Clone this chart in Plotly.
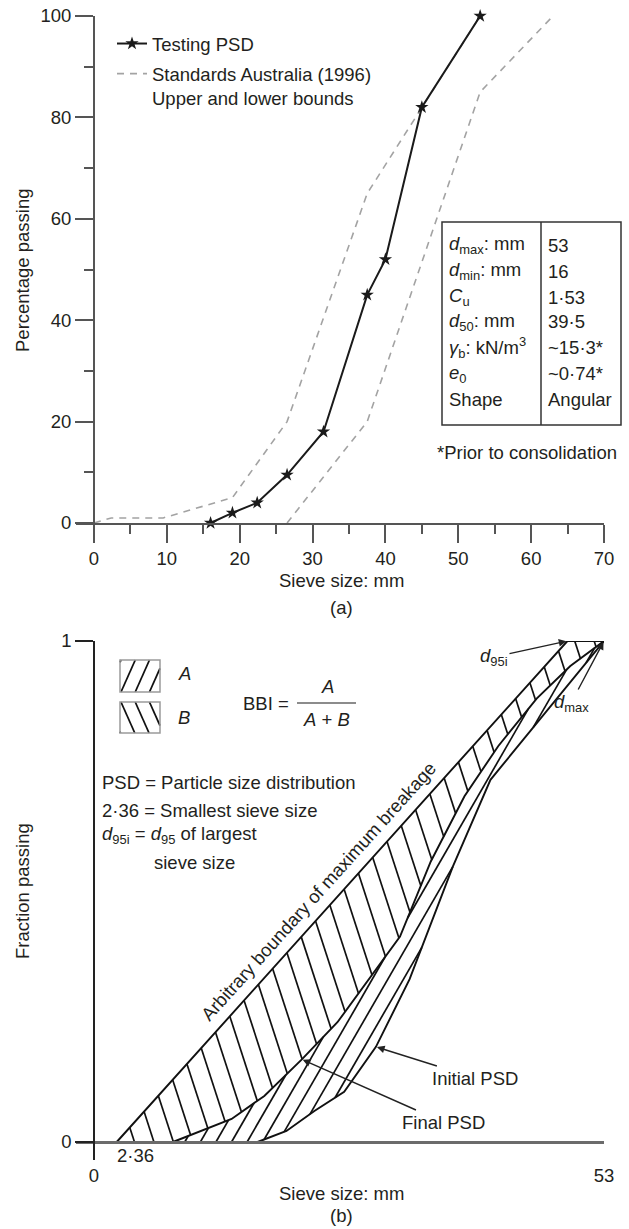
import numpy as np
import plotly.graph_objects as go

W, H = 629, 1229
FONT = "Liberation Sans, Arial, sans-serif"
TXT = "#231f20"
AX = "#555555"
FS = 18.5

# ---------------- Data: panel (a) ----------------
sieve_mm = [16, 19, 22.4, 26.5, 31.5, 37.5, 40, 45, 53]
passing_pct = [0, 2, 4, 9.5, 18, 45, 52, 82, 100]
upper_bound_mm = [0, 2.36, 9.5, 19, 26.5, 37.5, 53]
upper_bound_pct = [0, 1, 1, 5, 20, 65, 100]
lower_bound_mm = [26.5, 37.5, 53, 63]
lower_bound_pct = [0, 20, 85, 100]
a_xticks = [0, 10, 20, 30, 40, 50, 60, 70]
a_yticks = [0, 20, 40, 60, 80, 100]

table_labels = ["<i>d</i><sub>max</sub>: mm", "<i>d</i><sub>min</sub>: mm", "<i>C</i><sub>u</sub>",
                "<i>d</i><sub>50</sub>: mm", "<i>γ</i><sub>b</sub>: kN/m<sup>3</sup>",
                "<i>e</i><sub>0</sub>", "Shape"]
table_values = ["53", "16", "1·53", "39·5", "~15·3*", "~0·74*", "Angular"]

# ---------------- Data: panel (b) (schematic) ----------------
boundary_mm = [2.36, 49.2, 53]
boundary_frac = [0, 1, 1]
final_mm = [8.2, 14.3, 17.7, 21.6, 25.3, 31.8, 35, 38.5, 42, 46, 49.5, 53]
final_frac = [0, 0.046, 0.092, 0.165, 0.239, 0.41, 0.56, 0.69, 0.79, 0.885, 0.95, 1]
initial_mm = [17, 20, 22.9, 26, 29.3, 32.8, 37.3, 41.2, 53]
initial_frac = [0, 0.022, 0.062, 0.10, 0.19, 0.325, 0.55, 0.723, 1]
b_xticks = [0, 53]
b_yticks = [0, 1]

# ---------------- layout geometry (pixels) ----------------
def PX(u):
    return u / W

def PY(v):
    return 1 - v / H

A_L, A_R, A_B, A_T = 94, 604, 523, 16
B_L, B_R, B_B, B_T = 94, 604, 1142, 641
EXT = 18
A_SX = (A_R - A_L) / 70.0
B_SX = (B_R - B_L) / 53.0
B_SY = (B_B - B_T) / 1.0


def b_to_px(x, y):
    return B_L + x * B_SX, B_B - y * B_SY


def b_from_px(u, v):
    return (u - B_L) / B_SX, (B_B - v) / B_SY


def hatch_segments(poly_px, angle_deg, spacing, phase=0.0):
    P = np.asarray(poly_px, float)
    th = np.radians(angle_deg)
    d = np.array([np.cos(th), np.sin(th)])
    n = np.array([-d[1], d[0]])
    proj = P @ n
    start = np.ceil((proj.min() - phase) / spacing) * spacing + phase
    segs = []
    m = len(P)
    for c in np.arange(start, proj.max(), spacing):
        pts = []
        for i in range(m):
            p1, p2 = P[i], P[(i + 1) % m]
            a1, a2 = p1 @ n - c, p2 @ n - c
            if a1 == a2:
                continue
            if (a1 <= 0 < a2) or (a2 <= 0 < a1):
                t = a1 / (a1 - a2)
                pts.append(p1 + t * (p2 - p1))
        pts.sort(key=lambda q: q @ d)
        for k in range(0, len(pts) - 1, 2):
            segs.append((pts[k], pts[k + 1]))
    return segs


def segs_to_b(segs):
    xs, ys = [], []
    for p, q in segs:
        for u, v in (p, q):
            x, y = b_from_px(u, v)
            xs.append(x)
            ys.append(y)
        xs.append(None)
        ys.append(None)
    return xs, ys


fig = go.Figure()

# ---------------- panel (a) traces ----------------
fig.add_trace(go.Scatter(
    x=upper_bound_mm, y=upper_bound_pct, mode="lines",
    line=dict(color="#a3a3a3", width=1.6, dash="7px,6px"),
    name="Standards Australia (1996)<br>Upper and lower bounds",
    legendgroup="sa", legendrank=2, cliponaxis=False))
fig.add_trace(go.Scatter(
    x=lower_bound_mm, y=lower_bound_pct, mode="lines",
    line=dict(color="#a3a3a3", width=1.6, dash="7px,6px"),
    showlegend=False, legendgroup="sa", cliponaxis=False))
fig.add_trace(go.Scatter(
    x=sieve_mm, y=passing_pct, mode="lines+markers",
    line=dict(color="#1a1a1a", width=2),
    marker=dict(symbol="star", size=10, color="#1a1a1a"),
    name="Testing PSD", legendgroup="t", legendrank=1, cliponaxis=False))

# ---------------- panel (b) hatching ----------------
poly_B = [b_to_px(x, y) for x, y in zip(boundary_mm, boundary_frac)] + \
         [b_to_px(x, y) for x, y in zip(final_mm[::-1], final_frac[::-1])]
poly_A = [b_to_px(x, y) for x, y in zip(final_mm, final_frac)] + \
         [b_to_px(x, y) for x, y in zip(initial_mm[::-1], initial_frac[::-1])]

hx, hy = segs_to_b(hatch_segments(poly_B, 72, 18.5, 3.0))
fig.add_trace(go.Scatter(x=hx, y=hy, mode="lines", line=dict(color="#111", width=1.7),
                         xaxis="x2", yaxis="y2", showlegend=False, hoverinfo="skip", cliponaxis=False))
hx, hy = segs_to_b(hatch_segments(poly_A, -60, 13.5, 2.0))
fig.add_trace(go.Scatter(x=hx, y=hy, mode="lines", line=dict(color="#111", width=1.7),
                         xaxis="x2", yaxis="y2", showlegend=False, hoverinfo="skip", cliponaxis=False))

# legend boxes of (b)
boxA = [(120, 660), (160, 660), (160, 692), (120, 692)]
boxB = [(120, 702), (160, 702), (160, 733), (120, 733)]
for box, ang, ph in ((boxA, -66, 2.0), (boxB, 66, 6.0)):
    hx, hy = segs_to_b(hatch_segments(box, ang, 13, ph))
    fig.add_trace(go.Scatter(x=hx, y=hy, mode="lines", line=dict(color="#111", width=1.8),
                             xaxis="x2", yaxis="y2", showlegend=False, hoverinfo="skip", cliponaxis=False))

# outlines
for xs, ys in ((boundary_mm, boundary_frac), (final_mm, final_frac), (initial_mm, initial_frac)):
    fig.add_trace(go.Scatter(x=xs, y=ys, mode="lines", line=dict(color="#111", width=1.9),
                             xaxis="x2", yaxis="y2", showlegend=False, cliponaxis=False))

# ---------------- annotations ----------------
ann = []


def text(t, u, v, xanchor="center", size=FS, angle=0, yanchor="middle"):
    ann.append(dict(text=t, x=PX(u), y=PY(v), xref="paper", yref="paper", showarrow=False,
                    xanchor=xanchor, yanchor=yanchor, textangle=angle,
                    font=dict(family=FONT, size=size, color=TXT)))


# panel (a)
text("Percentage passing", 22, 270, angle=-90)
text("Sieve size: mm", 341, 580)
text("(a)", 341, 607)
row_y = [245, 271, 297, 322, 348, 374, 400]
for lab, val, yy in zip(table_labels, table_values, row_y):
    text(lab, 447, yy, xanchor="left")
    text(val, 546, yy, xanchor="left")
text("*Prior to consolidation", 619, 452, xanchor="right")

# panel (b)
text("Fraction passing", 22, 891, angle=-90)
text("Sieve size: mm", 341, 1193)
text("(b)", 341, 1215)
text("<i>A</i>", 176, 673, xanchor="left")
text("<i>B</i>", 176, 717, xanchor="left")
text("BBI =", 291, 703, xanchor="right")
text("<i>A</i>", 327, 687)
text("<i>A</i> + <i>B</i>", 326, 720)
text("PSD = Particle size distribution", 100, 782, xanchor="left")
text("2·36 = Smallest sieve size", 100, 810, xanchor="left")
text("<i>d</i><sub>95i</sub> = <i>d</i><sub>95</sub> of largest", 100, 835, xanchor="left")
text("sieve size", 152, 862, xanchor="left")
text("Arbitrary boundary of maximum breakage", 318, 891, angle=-48)

ann.append(dict(text="2·36", x=boundary_mm[0], y=0, xref="x2", yref="y2", showarrow=False,
                xanchor="left", yanchor="top", xshift=-2, yshift=-1,
                font=dict(family=FONT, size=FS, color=TXT)))


def arrow(t, x, y, u, v):
    tu, tv = b_to_px(x, y)
    ann.append(dict(text=t, x=x, y=y, xref="x2", yref="y2", showarrow=True,
                    ax=u - tu, ay=v - tv, arrowhead=2, arrowsize=1.1, arrowwidth=1.4,
                    arrowcolor="#222", standoff=1,
                    font=dict(family=FONT, size=FS, color=TXT)))


tip_init_y = 0.19
arrow("Initial PSD", float(np.interp(tip_init_y, initial_frac, initial_mm)), tip_init_y, 475, 1078)
tip_fin_y = 0.165
arrow("Final PSD", float(np.interp(tip_fin_y, final_frac, final_mm)), tip_fin_y, 443, 1122)
arrow("<i>d</i><sub>95i</sub>", boundary_mm[1], boundary_frac[1], 494, 657)
arrow("<i>d</i><sub>max</sub>", final_mm[-1], final_frac[-1], 571, 703)

# ---------------- shapes ----------------
shapes = [
    dict(type="rect", xref="paper", yref="paper", x0=PX(442), x1=PX(621), y0=PY(425), y1=PY(222),
         line=dict(color="#333", width=1.5)),
    dict(type="line", xref="paper", yref="paper", x0=PX(541), x1=PX(541), y0=PY(425), y1=PY(222),
         line=dict(color="#333", width=1.5)),
    dict(type="line", xref="paper", yref="paper", x0=PX(297), x1=PX(356), y0=PY(703), y1=PY(703),
         line=dict(color="#666", width=1.5)),
]
for box in (boxA, boxB):
    shapes.append(dict(type="rect", xref="paper", yref="paper", x0=PX(box[0][0]), x1=PX(box[1][0]),
                       y0=PY(box[2][1]), y1=PY(box[0][1]), line=dict(color="#9a9a9a", width=1.5)))

tickfont = dict(family=FONT, size=FS, color=TXT)
fig.update_layout(
    width=W, height=H, margin=dict(l=0, r=0, t=0, b=0), autosize=False,
    paper_bgcolor="white", plot_bgcolor="white", template="none",
    font=dict(family=FONT, size=FS, color=TXT),
    showlegend=True,
    legend=dict(x=PX(112), y=PY(25), xanchor="left", yanchor="top", bgcolor="rgba(0,0,0,0)",
                font=dict(family=FONT, size=FS, color=TXT), traceorder="grouped",
                tracegroupgap=3, valign="top", itemwidth=30),
    xaxis=dict(domain=[PX(A_L - EXT), PX(A_R)], range=[-EXT / A_SX, 70], anchor="y",
               showline=True, linecolor=AX, linewidth=2, ticks="outside", ticklen=18, tickwidth=2,
               tickcolor=AX, tickvals=a_xticks, showgrid=False, zeroline=False, tickfont=tickfont,
               minor=dict(ticks="outside", ticklen=9, tickwidth=2, tickcolor=AX, dtick=5, tick0=0,
                          showgrid=False)),
    yaxis=dict(domain=[PY(A_B), PY(A_T)], range=[0, 100], anchor="free", position=PX(A_L),
               showline=True, linecolor=AX, linewidth=2, ticks="outside", ticklen=18, tickwidth=2,
               tickcolor=AX, tickvals=a_yticks, showgrid=False, zeroline=False, tickfont=tickfont,
               minor=dict(ticks="outside", ticklen=9, tickwidth=2, tickcolor=AX, dtick=10, tick0=0,
                          showgrid=False)),
    xaxis2=dict(domain=[PX(B_L - EXT), PX(B_R)], range=[-EXT / B_SX, 53], anchor="free",
                position=PY(B_B), showline=True, linecolor="#6b6b6b", linewidth=2.5,
                ticks="outside", ticklen=16, tickcolor="rgba(0,0,0,0)", tickvals=b_xticks,
                showgrid=False, zeroline=False, tickfont=tickfont),
    yaxis2=dict(domain=[PY(B_B + EXT), PY(B_T)], range=[-EXT / B_SY, 1], anchor="free",
                position=PX(B_L), showline=True, linecolor="#222", linewidth=1.5,
                ticks="outside", ticklen=18, tickwidth=1.5, tickcolor="#222", tickvals=b_yticks,
                showgrid=False, zeroline=False, tickfont=tickfont),
    annotations=ann, shapes=shapes,
)

fig.write_html("out.html")
